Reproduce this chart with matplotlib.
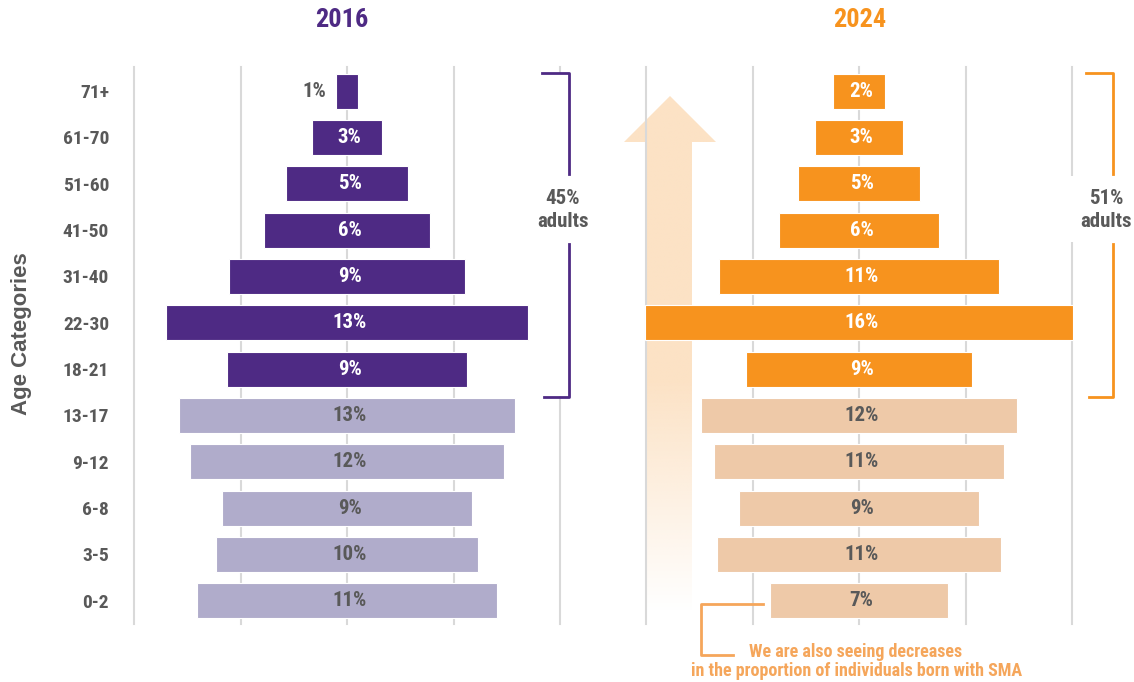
import matplotlib
matplotlib.use("Agg")
import matplotlib.pyplot as plt
import numpy as np
from matplotlib.patches import Polygon, Rectangle

plt.rcParams['font.family'] = ['Liberation Sans Narrow', 'Roboto Condensed', 'DejaVu Sans']

# data (bottom to top)
ages = ["0-2", "3-5", "6-8", "9-12", "13-17", "18-21", "22-30",
        "31-40", "41-50", "51-60", "61-70", "71+"]
w2016 = [11.3, 9.85, 9.4, 11.8, 12.6, 9.05, 13.6, 8.83, 6.27, 4.55, 2.6, 0.85]
lab2016 = [11, 10, 9, 12, 13, 9, 13, 9, 6, 5, 3, 1]
w2024 = [6.71, 10.68, 8.98, 10.9, 11.9, 8.51, 16.08, 10.54, 6.02, 4.61, 3.29, 1.92]
lab2024 = [7, 11, 9, 11, 12, 9, 16, 11, 6, 5, 3, 2]
adult_from = 5  # index of 18-21

purple = "#4E2A84"
purple_lt = "#B0ACCB"
orange = "#F7931E"
orange_lt = "#EEC9A8"
gray = "#595959"
note_col = "#F5A65B"

fig = plt.figure(figsize=(11.34, 6.82), dpi=100)
W, H = 1134, 682

# background layer (arrow)
bg = fig.add_axes([0, 0, 1, 1], zorder=0)
bg.set_xlim(0, W)
bg.set_ylim(H, 0)
bg.axis("off")

arrow = Polygon([(670, 96), (716, 142), (692, 142), (692, 612),
                 (646, 612), (646, 142), (624, 142)], closed=True,
                facecolor="none", edgecolor="none")
bg.add_patch(arrow)
n = 300
grad = np.zeros((n, 1, 4))
grad[:, 0, :3] = matplotlib.colors.to_rgb("#FCE2C5")
yy = np.linspace(96, 612, n)
grad[:, 0, 3] = np.clip((612 - yy) / (612 - 380), 0, 1)
im = bg.imshow(grad, extent=(624, 716, 612, 96), aspect="auto", interpolation="bilinear")
im.set_clip_path(arrow)


def panel(left, widths, labels, dark, light):
    ax = fig.add_axes([left / W, 1 - 624 / H, 426 / W, 557 / H], zorder=1)
    ax.set_facecolor("none")
    y = np.arange(len(ages))
    cols = [dark if i >= adult_from else light for i in y]
    for gx in [-8, -4, 0, 4, 8]:
        ax.axvline(gx, color="#D9D9D9", lw=1.5, zorder=0, clip_on=False)
    w = np.array(widths)
    ax.barh(y, w, left=-w / 2, height=0.755, color=cols, edgecolor="white",
            linewidth=0.8, zorder=2, clip_on=False)
    for i in y:
        txt = f"{labels[i]}%"
        if w[i] < 1.5:
            ax.text(-w[i] / 2 - 0.35, i, txt, ha="right", va="center",
                    fontsize=15, fontweight="bold", color=gray, zorder=3)
        else:
            ax.text(0.1, i, txt, ha="center", va="center", fontsize=15,
                    fontweight="bold",
                    color="white" if i >= adult_from else gray, zorder=3)
    ax.set_xlim(-8, 8)
    ax.set_ylim(-0.5, 11.52)
    for s in ax.spines.values():
        s.set_visible(False)
    ax.set_xticks([])
    return ax


ax1 = panel(134, w2016, lab2016, purple, purple_lt)
ax1.set_yticks(np.arange(len(ages)))
ax1.set_yticklabels(ages, fontsize=14, fontweight="bold", color=gray)
ax1.tick_params(axis="y", length=0, pad=18)

ax2 = panel(646, w2024, lab2024, orange, orange_lt)
ax2.set_yticks([])

fig.text(22 / W, 1 - 334 / H, "Age Categories", rotation=90, ha="center",
         va="center", fontsize=16, fontweight="bold", color=gray,
         family=['Liberation Sans', 'DejaVu Sans'])

fig.text(342 / W, 1 - 20 / H, "2016", ha="center", va="center", fontsize=19,
         fontweight="bold", color=purple)
fig.text(860 / W, 1 - 20 / H, "2024", ha="center", va="center", fontsize=19,
         fontweight="bold", color=orange)

# foreground layer (brackets, note)
fg = fig.add_axes([0, 0, 1, 1], zorder=3)
fg.set_xlim(0, W)
fg.set_ylim(H, 0)
fg.axis("off")
fg.patch.set_alpha(0)

fg.add_patch(Rectangle((542, 74), 27, 322, facecolor="white", edgecolor="none"))
fg.add_patch(Rectangle((1060, 176), 74, 66, facecolor="white", edgecolor="none"))

fg.plot([542, 569, 569], [73, 73, 174], color=purple, lw=2)
fg.plot([569, 569, 544], [244, 397, 397], color=purple, lw=2)
fg.text(563, 210, "45%\nadults", ha="center", va="center", fontsize=15,
        fontweight="bold", color=gray, linespacing=1.25)

fg.plot([1086, 1113, 1113], [73, 73, 174], color=orange, lw=2)
fg.plot([1113, 1113, 1089], [244, 397, 397], color=orange, lw=2)
fg.text(1106, 210, "51%\nadults", ha="center", va="center", fontsize=15,
        fontweight="bold", color=gray, linespacing=1.25)

fg.plot([763, 701, 701, 733], [604, 604, 655, 655], color=note_col, lw=2)
fg.text(856, 652, "We are also seeing decreases", ha="center", va="center",
        fontsize=13, fontweight="bold", color=note_col)
fg.text(857, 671, "in the proportion of individuals born with SMA", ha="center",
        va="center", fontsize=13, fontweight="bold", color=note_col)

fig.savefig("out.png", dpi=100, facecolor="white")
